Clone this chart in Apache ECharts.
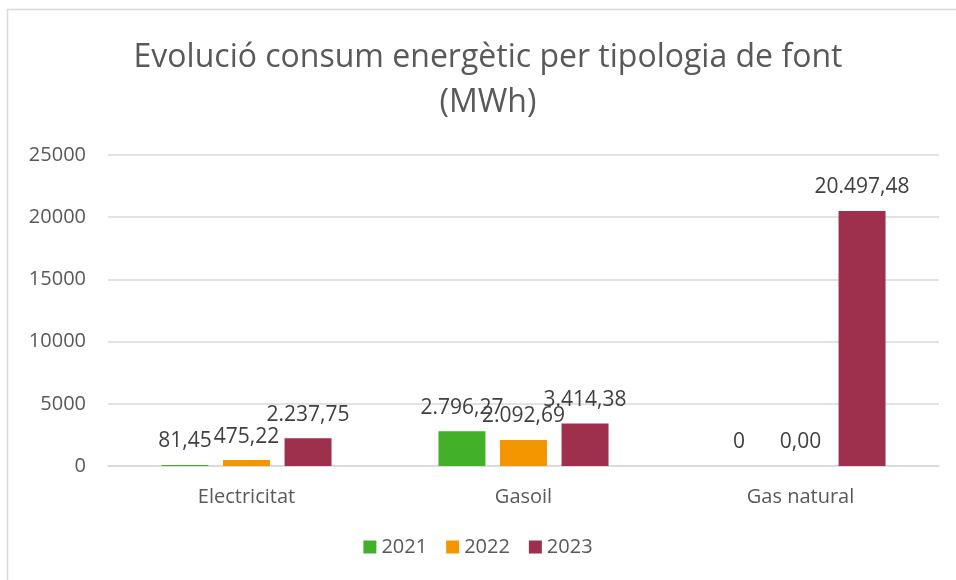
<!DOCTYPE html>
<html>
<head>
<meta charset="utf-8">
<script src="https://cdn.jsdelivr.net/npm/echarts@6/dist/echarts.min.js"></script>
<style>
  html, body { margin: 0; padding: 0; background: #fff; }
  #chart { width: 956px; height: 580px; }
</style>
</head>
<body>
<div id="chart"></div>
<script>
var categories = ['Electricitat', 'Gasoil', 'Gas natural'];
var years = ['2021', '2022', '2023'];
var values2021 = [81.45, 2796.27, 0];
var values2022 = [475.22, 2092.69, 0.00];
var values2023 = [2237.75, 3414.38, 20497.48];
var labels2021 = ['81,45', '2.796,27', '0'];
var labels2022 = ['475,22', '2.092,69', '0,00'];
var labels2023 = ['2.237,75', '3.414,38', '20.497,48'];
var colors = ['#43b02a', '#f29700', '#9e2f4d'];

var font = 'Open Sans';

var myChart = echarts.init(document.getElementById('chart'));

function barSeries(name, data, labels, color) {
    return {
        name: name,
        type: 'bar',
        data: data,
        barGap: '31%',
        barCategoryGap: '38.6%',
        itemStyle: { color: color },
        label: {
            show: true,
            position: 'top',
            distance: 13,
            color: '#404040',
            fontFamily: font,
            fontSize: 21,
            formatter: function(p) { return labels[p.dataIndex]; }
        }
    };
}

var option = {
    backgroundColor: '#fff',
    animation: false,
    textStyle: { fontFamily: font },
    title: {
        text: 'Evolució consum energètic per tipologia de font\n(MWh)',
        left: 483,
        textAlign: 'center',
        top: 30,
        textStyle: {
            color: '#595959',
            fontFamily: font,
            fontWeight: 'normal',
            fontSize: 32,
            lineHeight: 45
        }
    },
    graphic: [{
        type: 'rect',
        shape: { x: 7.5, y: 9.5, width: 1200, height: 1000 },
        style: { fill: 'none', stroke: '#d9d9d9', lineWidth: 1.5 },
        silent: true
    }],
    legend: {
        data: years,
        bottom: 18,
        left: 'center',
        itemWidth: 13,
        itemHeight: 13,
        itemGap: 19,
        icon: 'rect',
        textStyle: { color: '#595959', fontSize: 20, fontFamily: font }
    },
    grid: { left: 108, right: 17, top: 155, bottom: 114 },
    xAxis: {
        type: 'category',
        data: categories,
        axisLine: { lineStyle: { color: '#d9d9d9', width: 1.5 } },
        axisTick: { show: false },
        axisLabel: { color: '#595959', fontSize: 20, margin: 21, fontFamily: font }
    },
    yAxis: {
        type: 'value',
        min: 0,
        max: 25000,
        interval: 5000,
        axisLine: { show: false },
        axisTick: { show: false },
        axisLabel: {
            color: '#595959', fontSize: 20, margin: 22, fontFamily: font,
            formatter: function(v) { return String(v); }
        },
        splitLine: { lineStyle: { color: '#d9d9d9', width: 1.5 } }
    },
    series: [
        barSeries(years[0], values2021, labels2021, colors[0]),
        barSeries(years[1], values2022, labels2022, colors[1]),
        barSeries(years[2], values2023, labels2023, colors[2])
    ]
};

myChart.setOption(option);
</script>
</body>
</html>
